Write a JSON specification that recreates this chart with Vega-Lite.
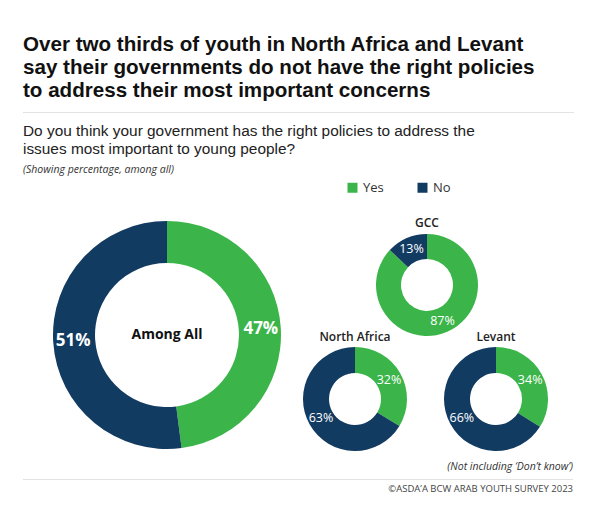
{
  "$schema": "https://vega.github.io/schema/vega-lite/v6.json",
  "padding": 0,
  "bounds": "flush",
  "spacing": 0,
  "background": "white",
  "config": {
    "view": {"stroke": null},
    "font": "Open Sans",
    "title": {"fontSize": 12, "fontWeight": 600, "color": "#222222", "offset": 2, "font": "Open Sans"},
    "legend": {
      "orient": "none",
      "legendX": 346,
      "legendY": 181,
      "direction": "horizontal",
      "symbolType": "square",
      "symbolSize": 100,
      "symbolStrokeWidth": 0,
      "labelFontSize": 13,
      "labelColor": "#333333",
      "labelFont": "Open Sans",
      "columnPadding": 32,
      "title": null
    }
  },
  "data": {
    "values": [
      {"region": "Among All", "answer": "Yes", "pct": 47},
      {"region": "Among All", "answer": "No", "pct": 51},
      {"region": "GCC", "answer": "Yes", "pct": 87},
      {"region": "GCC", "answer": "No", "pct": 13},
      {"region": "North Africa", "answer": "Yes", "pct": 32},
      {"region": "North Africa", "answer": "No", "pct": 63},
      {"region": "Levant", "answer": "Yes", "pct": 34},
      {"region": "Levant", "answer": "No", "pct": 66}
    ]
  },
  "transform": [{"calculate": "datum.pct + '%'", "as": "label"}],
  "vconcat": [
    {
      "width": 599,
      "height": 232,
      "data": {"values": [{}]},
      "layer": [
        {
          "mark": {"type": "text", "text": "Over two thirds of youth in North Africa and Levant", "align": "left", "baseline": "alphabetic", "font": "Liberation Sans", "fontSize": 20.6, "fontWeight": "bold", "color": "#111111"},
          "encoding": {"x": {"value": 23}, "y": {"value": 51}}
        },
        {
          "mark": {"type": "text", "text": "say their governments do not have the right policies", "align": "left", "baseline": "alphabetic", "font": "Liberation Sans", "fontSize": 20.6, "fontWeight": "bold", "color": "#111111"},
          "encoding": {"x": {"value": 23}, "y": {"value": 74}}
        },
        {
          "mark": {"type": "text", "text": "to address their most important concerns", "align": "left", "baseline": "alphabetic", "font": "Liberation Sans", "fontSize": 20.6, "fontWeight": "bold", "color": "#111111"},
          "encoding": {"x": {"value": 23}, "y": {"value": 97}}
        },
        {
          "mark": {"type": "rule", "color": "#e3e3e3", "strokeWidth": 1},
          "encoding": {"x": {"value": 23}, "x2": {"value": 574}, "y": {"value": 112.5}}
        },
        {
          "mark": {"type": "text", "text": "Do you think your government has the right policies to address the", "align": "left", "baseline": "alphabetic", "font": "Liberation Sans", "fontSize": 15.4, "color": "#222222"},
          "encoding": {"x": {"value": 23}, "y": {"value": 136}}
        },
        {
          "mark": {"type": "text", "text": "issues most important to young people?", "align": "left", "baseline": "alphabetic", "font": "Liberation Sans", "fontSize": 15.4, "color": "#222222"},
          "encoding": {"x": {"value": 23}, "y": {"value": 154}}
        },
        {
          "mark": {"type": "text", "text": "(Showing percentage, among all)", "align": "left", "baseline": "alphabetic", "fontSize": 10.5, "fontStyle": "italic", "color": "#333333"},
          "encoding": {"x": {"value": 23}, "y": {"value": 173}}
        },
        {
          "mark": {"type": "text", "text": "(Not including ‘Don’t know’)", "align": "right", "baseline": "middle", "fontSize": 10.5, "fontStyle": "italic", "color": "#333333"},
          "encoding": {"x": {"value": 573}, "y": {"value": 467}}
        },
        {
          "mark": {"type": "rule", "color": "#e3e3e3", "strokeWidth": 1},
          "encoding": {"x": {"value": 23}, "x2": {"value": 573}, "y": {"value": 479.5}}
        },
        {
          "mark": {"type": "text", "text": "©ASDA’A BCW ARAB YOUTH SURVEY 2023", "align": "right", "baseline": "middle", "fontSize": 9.5, "color": "#444444"},
          "encoding": {"x": {"value": 573}, "y": {"value": 489}}
        }
      ]
    },
    {
      "bounds": "flush",
      "spacing": 0,
      "hconcat": [
        {
          "width": 334,
          "height": 206,
          "transform": [{"filter": "datum.region === 'Among All'"}],
          "layer": [
            {
              "mark": {"type": "arc", "innerRadius": 72, "outerRadius": 114},
              "encoding": {
                "theta": {"field": "pct", "type": "quantitative", "stack": true},
                "order": {"field": "answer", "sort": "descending"},
                "color": {
                  "field": "answer",
                  "type": "nominal",
                  "scale": {"domain": ["Yes", "No"], "range": ["#3bb54a", "#123b62"]},
                  "legend": {}
                }
              }
            },
            {
              "mark": {"type": "text", "fontSize": 17, "fontWeight": "bold", "color": "white"},
              "encoding": {
                "theta": {"field": "pct", "type": "quantitative", "stack": true},
                "order": {"field": "answer", "sort": "descending"},
                "radius": {"value": 94},
                "text": {"field": "label"}
              }
            },
            {
              "transform": [{"aggregate": [{"op": "count", "as": "n"}], "groupby": ["region"]}],
              "mark": {"type": "text", "fontSize": 14, "fontWeight": "bold", "color": "#111111"},
              "encoding": {"text": {"field": "region"}}
            }
          ]
        },
        {
          "bounds": "flush",
          "spacing": 8,
          "vconcat": [
            {
              "width": 186,
              "height": 106,
              "title": "GCC",
              "transform": [{"filter": "datum.region === 'GCC'"}],
              "layer": [
                {
                  "mark": {"type": "arc", "innerRadius": 26, "outerRadius": 51},
                  "encoding": {
                    "theta": {"field": "pct", "type": "quantitative", "stack": true},
                    "order": {"field": "answer", "sort": "descending"},
                    "color": {"field": "answer", "type": "nominal"}
                  }
                },
                {
                  "mark": {"type": "text", "fontSize": 12.5, "color": "white"},
                  "encoding": {
                    "theta": {"field": "pct", "type": "quantitative", "stack": true},
                    "order": {"field": "answer", "sort": "descending"},
                    "radius": {"value": 39},
                    "text": {"field": "label"}
                  }
                }
              ]
            },
            {
              "bounds": "flush",
              "spacing": 99,
              "hconcat": [
                {
                  "width": 42,
                  "height": 106,
                  "title": "North Africa",
                  "transform": [{"filter": "datum.region === 'North Africa'"}],
                  "layer": [
                    {
                      "mark": {"type": "arc", "innerRadius": 26, "outerRadius": 52},
                      "encoding": {
                        "theta": {"field": "pct", "type": "quantitative", "stack": true},
                        "order": {"field": "answer", "sort": "descending"},
                        "color": {"field": "answer", "type": "nominal"}
                      }
                    },
                    {
                      "mark": {"type": "text", "fontSize": 12.5, "color": "white"},
                      "encoding": {
                        "theta": {"field": "pct", "type": "quantitative", "stack": true},
                        "order": {"field": "answer", "sort": "descending"},
                        "radius": {"value": 39},
                        "text": {"field": "label"}
                      }
                    }
                  ]
                },
                {
                  "width": 42,
                  "height": 106,
                  "title": "Levant",
                  "transform": [{"filter": "datum.region === 'Levant'"}],
                  "layer": [
                    {
                      "mark": {"type": "arc", "innerRadius": 26, "outerRadius": 52},
                      "encoding": {
                        "theta": {"field": "pct", "type": "quantitative", "stack": true},
                        "order": {"field": "answer", "sort": "descending"},
                        "color": {"field": "answer", "type": "nominal"}
                      }
                    },
                    {
                      "mark": {"type": "text", "fontSize": 12.5, "color": "white"},
                      "encoding": {
                        "theta": {"field": "pct", "type": "quantitative", "stack": true},
                        "order": {"field": "answer", "sort": "descending"},
                        "radius": {"value": 39},
                        "text": {"field": "label"}
                      }
                    }
                  ]
                }
              ]
            }
          ]
        }
      ]
    }
  ]
}
